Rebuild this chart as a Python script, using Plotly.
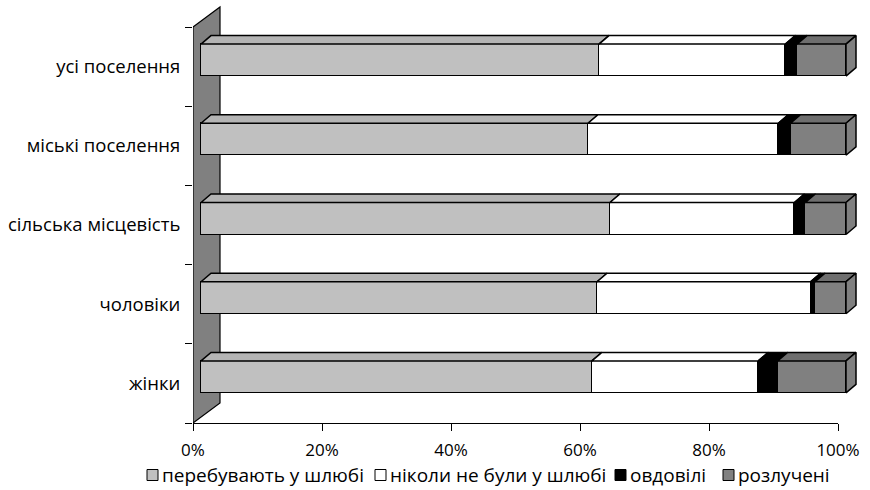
import plotly.graph_objects as go

# ---------------- data ----------------
categories = ["усі поселення", "міські поселення", "сільська місцевість", "чоловіки", "жінки"]
series_names = ["перебувають у шлюбі", "ніколи не були у шлюбі", "овдовілі", "розлучені"]
married = [61.7, 60.0, 63.4, 61.4, 60.6]
never_married = [28.9, 29.5, 28.6, 33.1, 25.8]
widowed = [1.8, 1.9, 1.7, 0.7, 3.0]
divorced = [7.6, 8.6, 6.3, 4.8, 10.6]
x_tick_vals = [0, 20, 40, 60, 80, 100]
x_tick_text = ["0%", "20%", "40%", "60%", "80%", "100%"]

series_values = [married, never_married, widowed, divorced]
front_colors = ["#C0C0C0", "#FFFFFF", "#000000", "#808080"]
top_colors = ["#B4B4B4", "#FFFFFF", "#000000", "#6E6E6E"]
side_color = "#808080"
wall_color = "#808080"

# ---------------- layout geometry (pixels) ----------------
W, H = 870, 490
AX_L, AX_R = 193, 838          # 0% .. 100% on the front plane
AX_T, AX_B = 27, 423           # top / bottom of the category axis
MARG_T, MARG_R = 5, 0
PLOT_L, PLOT_R = AX_L, W - MARG_R
PLOT_T, PLOT_B = MARG_T, AX_B
PW, PH = PLOT_R - PLOT_L, PLOT_B - PLOT_T
PX_PER_PCT = (AX_R - AX_L) / 100.0
PX_PER_CAT = (AX_B - AX_T) / len(categories)
BAR_SHIFT_X, BAR_SHIFT_Y = 8, 6.5     # bars front face offset into depth
DEPTH_X, DEPTH_Y = 10, 8.5            # bar depth
WALL_DX, WALL_DY = 27, 20             # wall depth
BAR_PX = 32
LEGEND_SQ_X = [147, 375, 615, 723]    # left edge of each legend key
LEGEND_Y = 475
SQ = 11

n = len(categories)
ypos = [n - 1 - i for i in range(n)]   # first category on top

# scene axis (x2/y2) ranges so that bar value 0 sits BAR_SHIFT px right of the 0% tick
x2_lo = (PLOT_L - (AX_L + BAR_SHIFT_X)) / PX_PER_PCT
x2_hi = x2_lo + PW / PX_PER_PCT
y2_lo = -0.5 - BAR_SHIFT_Y / PX_PER_CAT
y2_hi = y2_lo + PH / PX_PER_CAT

def px_to_x2(px):
    return x2_lo + (px - PLOT_L) / PX_PER_PCT

def px_to_y2(py):
    return y2_lo + (PLOT_B - py) / PX_PER_CAT

def px_to_paper_x(px):
    return (px - PLOT_L) / PW

def px_to_paper_y(py):
    return (PLOT_B - py) / PH

dx = DEPTH_X / PX_PER_PCT
dy = DEPTH_Y / PX_PER_CAT
hw = BAR_PX / PX_PER_CAT / 2

fig = go.Figure()

# front faces: stacked bars
for name, vals, col in zip(series_names, series_values, front_colors):
    fig.add_trace(go.Bar(y=ypos, x=vals, name=name, orientation="h", xaxis="x2", yaxis="y2",
                         width=2 * hw, showlegend=False,
                         marker=dict(color=col, line=dict(color="black", width=1.5))))

# top faces
for s_idx, (vals, col) in enumerate(zip(series_values, top_colors)):
    xs, ys = [], []
    for r in range(n):
        start = sum(series_values[k][r] for k in range(s_idx))
        end = start + vals[r]
        yt = ypos[r] + hw
        xs += [start, end, end + dx, start + dx, start, None]
        ys += [yt, yt, yt + dy, yt + dy, yt, None]
    fig.add_trace(go.Scatter(x=xs, y=ys, xaxis="x2", yaxis="y2", mode="lines", fill="toself",
                             fillcolor=col, line=dict(color="black", width=1.5),
                             showlegend=False, hoverinfo="skip"))

# right side faces
xs, ys = [], []
for r in range(n):
    total = sum(series_values[k][r] for k in range(len(series_values)))
    yb, yt = ypos[r] - hw, ypos[r] + hw
    xs += [total, total + dx, total + dx, total, total, None]
    ys += [yb, yb + dy, yt + dy, yt, yb, None]
fig.add_trace(go.Scatter(x=xs, y=ys, xaxis="x2", yaxis="y2", mode="lines", fill="toself",
                         fillcolor=side_color, line=dict(color="black", width=1.5),
                         showlegend=False, hoverinfo="skip"))

# invisible trace to anchor the main (labelled) axes
fig.add_trace(go.Scatter(x=[None], y=[None], showlegend=False, hoverinfo="skip"))

# wall on the left (decoration, below the bars)
wall_path = "M {} {} L {} {} L {} {} L {} {} Z".format(
    px_to_x2(AX_L), px_to_y2(AX_B),
    px_to_x2(AX_L + WALL_DX), px_to_y2(AX_B - WALL_DY),
    px_to_x2(AX_L + WALL_DX), px_to_y2(AX_T - WALL_DY),
    px_to_x2(AX_L), px_to_y2(AX_T))
fig.add_shape(type="path", path=wall_path, xref="x2", yref="y2", layer="below",
              fillcolor=wall_color, line=dict(color="black", width=1.2))

# legend (keys + labels) below the axis
for name, col, sx in zip(series_names, front_colors, LEGEND_SQ_X):
    fig.add_shape(type="rect", xref="paper", yref="paper",
                  x0=px_to_paper_x(sx), x1=px_to_paper_x(sx + SQ),
                  y0=px_to_paper_y(LEGEND_Y - SQ / 2), y1=px_to_paper_y(LEGEND_Y + SQ / 2),
                  fillcolor=col, line=dict(color="black", width=1))
    fig.add_annotation(text=name, xref="paper", yref="paper",
                       x=px_to_paper_x(sx + SQ + 3), y=px_to_paper_y(LEGEND_Y),
                       xanchor="left", yanchor="middle", showarrow=False,
                       font=dict(size=19), borderpad=0)

FONT = "Open Sans"
fig.update_layout(
    template="none",
    width=W, height=H,
    margin=dict(l=PLOT_L, r=MARG_R, t=MARG_T, b=H - PLOT_B, pad=0, autoexpand=False),
    paper_bgcolor="white", plot_bgcolor="rgba(0,0,0,0)",
    font=dict(family=FONT, size=18, color="black"),
    barmode="stack", bargap=0,
    showlegend=False,
    xaxis=dict(domain=[0, (AX_R - AX_L) / PW], range=[0, 100], tickvals=x_tick_vals,
               ticktext=x_tick_text, ticks="outside", ticklen=7, tickcolor="black",
               tickwidth=1.2, showline=True, linecolor="black", linewidth=1.2, showgrid=False,
               zeroline=False, fixedrange=True, anchor="y", automargin=False,
               ticklabelstandoff=4, tickfont=dict(size=17)),
    yaxis=dict(domain=[0, (AX_B - AX_T) / PH], range=[-0.5, n - 0.5], tickvals=ypos,
               ticktext=categories, ticks="outside", ticklen=8, tickcolor="rgba(0,0,0,0)",
               showline=False, showgrid=False, tickfont=dict(size=18.5),
               zeroline=False, fixedrange=True, anchor="x", automargin=False,
               minor=dict(tickvals=[v - 0.5 for v in range(n + 1)], ticks="outside",
                          ticklen=7, tickcolor="black", tickwidth=1.2, showgrid=False)),
    xaxis2=dict(domain=[0, 1], range=[x2_lo, x2_hi], visible=False, anchor="y2",
                fixedrange=True, automargin=False),
    yaxis2=dict(domain=[0, 1], range=[y2_lo, y2_hi], visible=False, anchor="x2",
                fixedrange=True, automargin=False),
)

fig.write_html("out.html", config={"displayModeBar": False},
               post_script="document.body.style.margin='0px';document.body.style.padding='0px';")
